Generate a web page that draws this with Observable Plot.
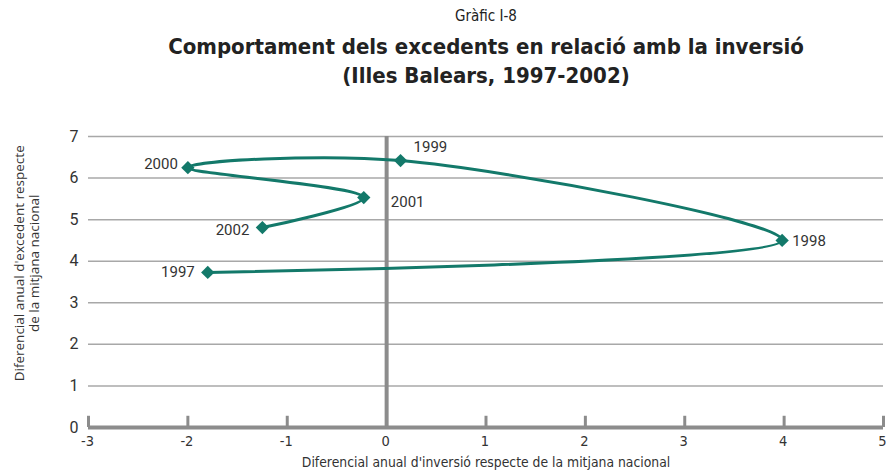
<!DOCTYPE html>
<html>
<head>
<meta charset="utf-8">
<script src="https://cdn.jsdelivr.net/npm/d3@7"></script>
<script src="https://cdn.jsdelivr.net/npm/@observablehq/plot@0.6"></script>
<style>
  html, body { margin: 0; padding: 0; background: #fff; }
  #wrap { position: relative; width: 886px; height: 474px; overflow: hidden; }
  .hdr { position: absolute; left: 86px; width: 800px; text-align: center; color: #222; white-space: nowrap;
         font-family: "DejaVu Sans Condensed", "Liberation Sans", sans-serif; }
  #kicker { top: 7px; font-size: 15px; }
  #t1 { top: 34px; font-size: 22px; font-weight: bold; }
  #t2 { top: 63px; font-size: 22px; font-weight: bold; }
  #chart { position: absolute; left: 0; top: 116px; }
</style>
</head>
<body>
<div id="wrap">
  <div class="hdr" id="kicker">Gràfic I-8</div>
  <div class="hdr" id="t1">Comportament dels excedents en relació amb la inversió</div>
  <div class="hdr" id="t2">(Illes Balears, 1997-2002)</div>
  <div id="chart"></div>
</div>
<script>
// ---- data ----
const years = ["1997", "1998", "1999", "2000", "2001", "2002"];
const inversio = [-1.80, 3.98, 0.14, -2.00, -0.23, -1.25];
const excedent = [3.73, 4.50, 6.42, 6.25, 5.53, 4.81];
const xTickValues = [-3, -2, -1, 0, 1, 2, 3, 4, 5];
const yTickValues = [0, 1, 2, 3, 4, 5, 6, 7];
const xLabel = "Diferencial anual d'inversió respecte de la mitjana nacional";
const yLabel = "Diferencial anual d'excedent respecte\nde la mitjana nacional";

// label placement (style only)
const placement = {
  "1997": {anchor: "end", dx: -13, dy: 0},
  "1998": {anchor: "start", dx: 10, dy: 1},
  "1999": {anchor: "start", dx: 13, dy: -13},
  "2000": {anchor: "end", dx: -10, dy: -3},
  "2001": {anchor: "start", dx: 27, dy: 5},
  "2002": {anchor: "end", dx: -13, dy: 3}
};

const data = years.map((yr, i) => ({year: yr, x: inversio[i], y: excedent[i]}));
const green = "#13796a";
const axisGray = "#8c8c8c";
const condensed = "'DejaVu Sans Condensed', 'Liberation Sans', sans-serif";

const labels = data.map(d => Plot.text([d], {
  x: "x", y: "y", text: "year",
  textAnchor: placement[d.year].anchor,
  dx: placement[d.year].dx, dy: placement[d.year].dy,
  fill: "#333", fontSize: 15, fontFamily: "Roboto"
}));

const fmtX = d => d < 0 ? "-" + Math.abs(d) : String(d);

const chart = Plot.plot({
  width: 886,
  height: 358,
  marginTop: 20,
  marginBottom: 47,
  marginLeft: 88,
  marginRight: 3,
  x: {domain: [-3, 5]},
  y: {domain: [0, 7]},
  style: {background: "#fff", color: "#333"},
  marks: [
    Plot.ruleY(yTickValues.filter(v => v > 0), {stroke: "#a8a8a8", strokeWidth: 1.5}),
    Plot.ruleX([0], {y1: 0, y2: 7, stroke: axisGray, strokeWidth: 4}),
    Plot.ruleX(xTickValues.filter(v => v !== 0), {y1: 0, y2: 0.27, stroke: axisGray, strokeWidth: 3}),
    Plot.ruleY([0], {stroke: axisGray, strokeWidth: 4}),
    Plot.axisX({ticks: xTickValues, tickSize: 0, tickPadding: 8, fontSize: 14.5, fontFamily: condensed, tickFormat: fmtX, label: null, dx: -1}),
    Plot.axisY({ticks: yTickValues, tickSize: 0, tickPadding: 10, fontSize: 16, fontFamily: "Roboto", tickFormat: d => String(d), label: null}),
    Plot.line(data, {x: "x", y: "y", curve: "catmull-rom", stroke: green, strokeWidth: 3}),
    Plot.dot(data, {x: "x", y: "y", symbol: "diamond2", r: 6, fill: green, stroke: "none"}),
    ...labels,
    Plot.text([xLabel], {frameAnchor: "bottom", dy: 39, fontSize: 13.8, fontFamily: condensed, fill: "#333"}),
    Plot.text([yLabel], {x: -3, y: 3.95, dx: -62, rotate: -90, textAnchor: "middle", lineAnchor: "middle", lineHeight: 1.15, fontSize: 13.5, fontFamily: "Open Sans", fill: "#333"})
  ]
});
document.getElementById("chart").appendChild(chart);
</script>
</body>
</html>
